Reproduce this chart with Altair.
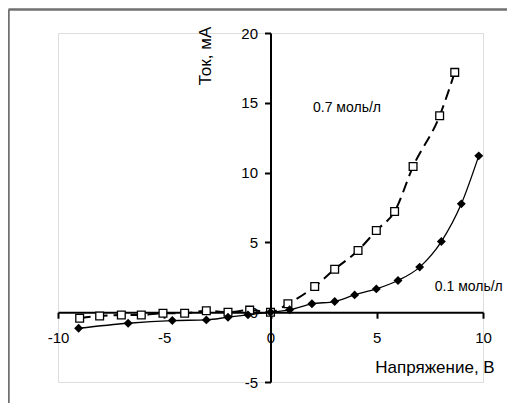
import altair as alt
import pandas as pd

# 0.7 mol/L series (open squares, dashed line)
x07 = [-8.98, -8.04, -7.02, -6.08, -5.06, -4.04, -3.02, -2.0, -0.98, 0.0, 0.82, 2.08, 3.02, 4.12, 4.98, 5.84, 6.71, 7.96, 8.67]
y07 = [-0.43, -0.27, -0.2, -0.2, -0.07, -0.07, 0.1, 0.0, 0.15, 0.0, 0.6, 1.84, 3.08, 4.42, 5.85, 7.21, 10.44, 14.07, 17.18]
# 0.1 mol/L series (filled diamonds, solid line)
x01 = [-9.03, -6.7, -4.62, -3.02, -2.0, -1.06, 0.0, 0.9, 1.95, 3.02, 3.96, 4.98, 6.0, 7.02, 8.04, 8.98, 9.8]
y01 = [-1.15, -0.79, -0.6, -0.55, -0.36, -0.19, 0.0, 0.17, 0.6, 0.76, 1.24, 1.67, 2.27, 3.23, 5.06, 7.76, 11.2]

labels = ["0.7 моль/л", "0.1 моль/л"]
label_x = [3.6, 9.33]
label_y = [14.65, 1.81]

x_ticks = [-10, -5, 0, 5, 10]
y_ticks = [-5, 0, 5, 10, 15, 20]
x_title = "Напряжение, В"
y_title = "Ток, мА"

FONT = "Liberation Sans"
W, H = 425, 349

d07 = pd.DataFrame({"x": x07, "y": y07})
d01 = pd.DataFrame({"x": x01, "y": y01})
dlab = pd.DataFrame({"x": label_x, "y": label_y, "t": labels})
one = pd.DataFrame({"a": [0]})

xs = alt.Scale(domain=[-10, 10], nice=False, zero=False)
ys = alt.Scale(domain=[-5, 20], nice=False, zero=False)

common = dict(title=None, domainColor="black", domainWidth=2, tickColor="black", tickWidth=2,
              tickSize=6, labelFont=FONT, labelFontSize=15, labelColor="black",
              labelOverlap=False, labelBound=False, grid=False, labelFlush=False,
              labelExpr="datum.value + ''")
xax = alt.Axis(values=x_ticks, orient="bottom", offset=-H * 5 / 25, labelPadding=12, **common)
yax = alt.Axis(values=y_ticks, orient="left", offset=-W / 2, labelPadding=7, **common)

X = alt.X("x:Q", scale=xs, axis=xax)
Y = alt.Y("y:Q", scale=ys, axis=yax)

line07 = alt.Chart(d07).mark_line(color="black", strokeWidth=2, strokeDash=[11, 6],
                                  interpolate="monotone").encode(x=X, y=Y)
line01 = alt.Chart(d01).mark_line(color="black", strokeWidth=1.3,
                                  interpolate="monotone").encode(x="x:Q", y="y:Q")
pts07 = alt.Chart(d07).mark_point(shape="square", size=60, filled=True, fill="white",
                                  stroke="black", strokeWidth=1.3, opacity=1).encode(x="x:Q", y="y:Q")
pts01 = alt.Chart(d01).mark_point(shape="diamond", size=80, filled=True, color="black",
                                  opacity=1).encode(x="x:Q", y="y:Q")
txt = alt.Chart(dlab).mark_text(font=FONT, fontSize=14, color="black", align="center",
                                baseline="middle").encode(x="x:Q", y="y:Q", text="t:N")

xt = alt.Chart(one).mark_text(font=FONT, fontSize=17, color="black", align="center",
                              baseline="middle").encode(x=alt.value(377), y=alt.value(335),
                                                         text=alt.value(x_title))
yt = alt.Chart(one).mark_text(font=FONT, fontSize=17, color="black", align="center",
                              baseline="middle", angle=270).encode(x=alt.value(148), y=alt.value(23),
                                                                    text=alt.value(y_title))

frame_top = alt.Chart(one).mark_rule(color="#707070", strokeWidth=2.5).encode(
    x=alt.value(-49.5), x2=alt.value(520), y=alt.value(-23.5))
frame_left = alt.Chart(one).mark_rule(color="#707070", strokeWidth=2.5).encode(
    x=alt.value(-49.5), y=alt.value(-23.5), y2=alt.value(420))

chart = alt.layer(frame_top, frame_left, line07, line01, pts07, pts01, txt, xt, yt).properties(
    width=W, height=H,
    padding={"left": 50, "top": 25, "right": 24, "bottom": 21},
    autosize=alt.AutoSizeParams(type="none"),
).configure_view(stroke="transparent", strokeWidth=0).configure(background="white")

chart.save("out.html", embed_options={"renderer": "svg", "actions": False})
